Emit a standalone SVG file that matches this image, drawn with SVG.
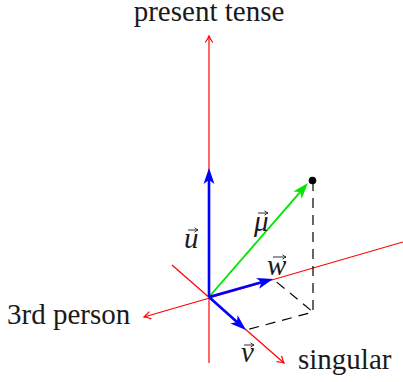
<svg xmlns="http://www.w3.org/2000/svg" width="403" height="382" viewBox="0 0 403 382">
<style>
.lbl{font-family:"Liberation Serif","Times New Roman",serif;font-size:29px;fill:#1a1a1a}
.vl{font-family:"Liberation Serif","Times New Roman",serif;font-style:italic;font-size:29px;fill:#1a1a1a}
.axis{stroke:#ff0000;stroke-width:1.2;fill:none}
.vec{stroke:#0000ff;stroke-width:2.6;fill:none}
.mu{stroke:#00e600;stroke-width:1.9;fill:none}
.dash{stroke:#000;stroke-width:1.2;fill:none;stroke-dasharray:10 7}
.va{stroke:#1a1a1a;stroke-width:0.9;fill:none}
</style>
<defs>
<marker id="ra" markerUnits="userSpaceOnUse" viewBox="-7 -5 8 10" refX="0" refY="0" markerWidth="8" markerHeight="10" orient="auto" overflow="visible">
<path d="M-6.5,-3.8 Q-2.5,-1 0,0 Q-2.5,1 -6.5,3.8" stroke="#ff0000" stroke-width="1.2" fill="none"/>
</marker>
<marker id="ba" markerUnits="userSpaceOnUse" viewBox="0 0 16 11" refX="4" refY="5.5" markerWidth="16" markerHeight="11" orient="auto" overflow="visible">
<path d="M16,5.5 L0,0 L4,5.5 L0,11 Z" fill="#0000ff"/>
</marker>
<marker id="ga" markerUnits="userSpaceOnUse" viewBox="0 0 16 11" refX="4" refY="5.5" markerWidth="16" markerHeight="11" orient="auto" overflow="visible">
<path d="M16,5.5 L0,0 L4,5.5 L0,11 Z" fill="#00e600"/>
</marker>
<marker id="sa" markerUnits="userSpaceOnUse" viewBox="-4 -3 5 6" refX="0" refY="0" markerWidth="5" markerHeight="6" orient="auto" overflow="visible">
<path d="M-3.5,-2.2 Q-1.5,-0.6 0,0 Q-1.5,0.6 -3.5,2.2" stroke="#1a1a1a" stroke-width="0.9" fill="none"/>
</marker>
</defs>
<g id="connectors">
<line id="axis-present" class="axis" x1="209" y1="363" x2="209" y2="36" marker-end="url(#ra)"/>
<line id="axis-3rd" class="axis" x1="403" y1="242" x2="144" y2="317" marker-end="url(#ra)"/>
<line id="axis-singular" class="axis" x1="172" y1="265" x2="284" y2="363" marker-end="url(#ra)"/>
<path id="dash-proj" class="dash" d="M313,181 L313,312 L246,330"/>
<path id="dash-w" class="dash" d="M313,312 L273,279" style="stroke-dashoffset:14"/>
<line id="vec-mu" class="mu" x1="209" y1="297" x2="300.1" y2="192.1" marker-end="url(#ga)"/>
<line id="vec-u" class="vec" x1="209" y1="297" x2="209" y2="180" marker-end="url(#ba)"/>
<line id="vec-w" class="vec" x1="209" y1="297" x2="261.5" y2="282.3" marker-end="url(#ba)"/>
<line id="vec-v" class="vec" x1="209" y1="297" x2="237" y2="322" marker-end="url(#ba)"/>
</g>
<g id="point">
<circle cx="312.5" cy="180.5" r="3.8" fill="#000"/>
</g>
<g id="label-present">
<text class="lbl" x="209" y="21" text-anchor="middle">present tense</text>
</g>
<g id="label-3rd">
<text class="lbl" x="7" y="324">3rd person</text>
</g>
<g id="label-singular">
<text class="lbl" x="298" y="369">singular</text>
</g>
<g id="label-u">
<text class="vl" x="184" y="248">u</text>
<line class="va" x1="188" y1="230" x2="198" y2="230" marker-end="url(#sa)"/>
</g>
<g id="label-mu">
<text class="vl" x="254" y="231">μ</text>
<line class="va" x1="258" y1="213" x2="268" y2="213" marker-end="url(#sa)"/>
</g>
<g id="label-w">
<text class="vl" x="267" y="275">w</text>
<line class="va" x1="273" y1="257" x2="286" y2="257" marker-end="url(#sa)"/>
</g>
<g id="label-v">
<text class="vl" x="241" y="362">v</text>
<line class="va" x1="244" y1="345" x2="254" y2="345" marker-end="url(#sa)"/>
</g>
</svg>
